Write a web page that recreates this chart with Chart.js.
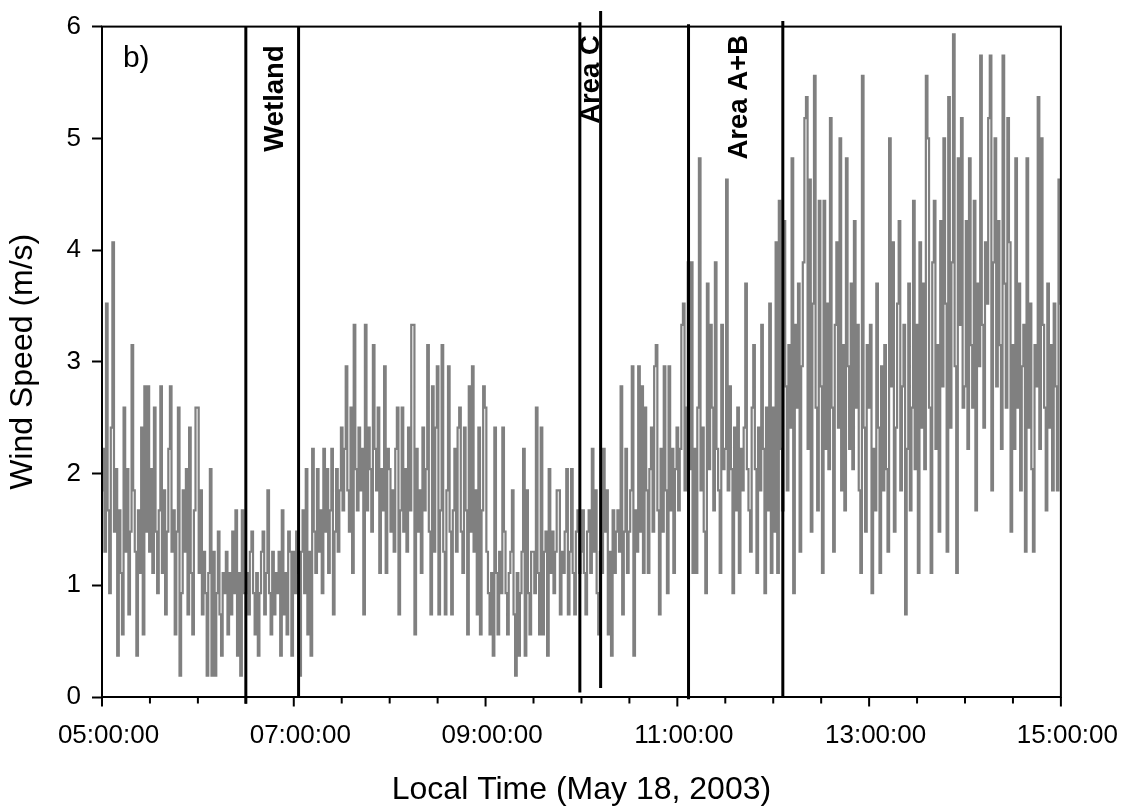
<!DOCTYPE html>
<html><head><meta charset="utf-8">
<script src="https://cdn.jsdelivr.net/npm/chart.js@4.4.1/dist/chart.umd.min.js"></script>
<style>html,body{margin:0;padding:0;background:#fff}#wrap{width:1125px;height:811px}</style>
</head><body><div id="wrap"><canvas id="c" width="1125" height="811"></canvas></div>
<script>
// ---- data (wind speed, m/s, one reading per minute starting 05:00) ----
const startHour = 5;
const speed05 = [1.85,2.22,1.30,3.52,1.67,0.93,2.41,4.07,1.48,2.04,0.37,1.67,1.11,0.56,2.59,1.30,2.04,0.74,1.48,3.15,1.85,1.30,0.37,1.67,1.11,2.41,0.56,2.78,1.48,2.78,
  1.30,2.04,1.11,2.59,1.48,0.93,1.67,2.78,1.11,1.85,0.74,1.48,2.22,2.78,1.30,1.67,0.56,1.48,2.59,0.19,0.93,1.85,1.30,2.04,0.74,2.41,1.11,0.56,1.67,2.59];
const speed06 = [2.59,1.11,1.85,0.74,1.30,0.93,0.19,1.11,2.04,0.19,1.30,0.19,0.93,1.48,0.74,0.37,1.11,0.93,1.30,0.56,1.11,0.74,1.48,0.93,1.67,0.37,1.11,0.19,1.67,0.93,
  0.93,1.11,0.74,1.30,1.48,0.93,0.56,1.11,0.37,0.93,1.30,1.48,0.74,1.11,1.85,0.93,0.56,1.30,0.74,1.11,0.93,1.30,0.37,1.67,0.74,1.11,0.56,1.48,1.30,0.37];
const speed07 = [1.30,0.93,1.48,1.11,0.19,1.30,1.67,0.93,2.04,0.56,1.30,0.37,2.22,1.48,1.11,2.04,1.30,1.67,0.93,2.22,1.48,2.04,1.11,1.67,2.22,0.74,1.48,2.04,1.30,1.85,
  2.41,1.67,2.22,2.96,1.85,1.48,2.59,1.11,3.33,2.04,1.67,2.41,1.85,2.22,0.74,3.33,1.67,2.41,2.04,1.48,3.15,2.22,1.85,2.59,1.11,2.04,1.67,2.96,1.11,2.22];
const speed08 = [2.04,1.48,1.85,1.30,2.22,2.59,0.74,1.67,2.59,1.48,2.04,1.30,2.41,1.67,3.33,3.33,0.56,2.22,1.48,1.85,1.11,2.41,1.67,2.04,3.15,1.48,0.74,2.78,1.30,2.41,
  2.96,0.74,1.67,3.15,1.30,0.74,1.85,2.96,1.48,0.74,1.67,2.22,1.30,2.41,2.59,1.48,1.11,2.41,1.67,0.56,2.78,1.48,2.96,1.30,1.85,0.74,2.41,0.56,1.67,2.78];
const speed09 = [2.59,1.30,0.93,0.56,1.11,0.37,2.41,1.11,0.56,1.30,0.93,2.41,1.48,0.93,0.56,1.11,1.30,1.85,0.74,0.19,1.11,0.37,0.93,1.30,2.22,0.37,1.85,0.93,0.56,1.30,
  1.30,0.93,2.59,1.11,0.56,2.41,0.56,1.30,1.48,0.37,2.04,1.11,1.48,0.93,1.30,1.85,1.85,0.74,1.30,1.11,1.48,2.04,0.74,1.30,2.04,1.11,0.74,1.48,1.67,1.11];
const speed10 = [1.30,1.67,1.11,0.74,1.48,1.67,1.11,2.22,1.30,1.85,0.93,0.56,1.30,1.11,2.22,1.48,1.85,0.56,1.30,0.37,1.67,1.11,1.48,1.67,1.30,2.78,0.74,1.48,2.22,1.11,
  1.48,1.85,2.96,0.37,1.67,1.30,2.96,1.48,2.78,1.11,2.59,1.85,1.11,2.04,2.41,1.48,2.96,3.15,1.67,0.74,2.22,1.48,2.96,1.85,0.93,2.96,1.67,2.22,1.11,2.04];
const speed11 = [2.41,1.67,2.22,3.33,3.52,1.85,2.59,3.89,2.04,3.89,1.11,2.22,1.11,2.59,4.82,1.85,2.41,1.48,0.93,3.70,2.04,3.33,2.59,1.67,3.89,2.22,1.85,1.11,3.33,2.04,
  2.22,4.63,1.85,2.78,2.04,0.93,2.41,1.67,2.59,1.11,2.22,1.85,2.41,3.70,2.04,1.67,1.30,2.59,3.15,2.04,1.11,2.41,1.85,3.33,2.22,0.93,2.59,1.67,3.52,1.11];
const speed12 = [2.59,1.48,4.07,1.11,4.44,2.22,1.67,4.26,2.78,1.85,3.15,2.41,4.82,0.93,3.33,2.59,3.70,1.30,2.96,3.89,5.18,5.37,2.22,4.63,1.48,3.52,5.56,2.59,1.67,4.44,
  2.78,1.11,4.44,2.22,3.52,2.04,5.18,2.59,1.30,3.33,4.07,2.41,5.00,1.85,3.15,1.67,4.82,2.96,2.22,3.70,2.04,4.26,2.59,3.33,1.85,1.11,5.56,2.41,1.48,3.15];
const speed13 = [2.59,3.33,0.93,2.22,1.67,3.70,2.41,1.11,2.96,1.85,3.15,2.04,1.30,5.00,2.78,4.07,1.48,2.41,3.52,4.26,1.85,2.78,3.33,0.74,2.22,3.70,1.67,2.59,4.44,2.04,
  3.33,1.11,4.07,2.41,3.70,2.04,5.56,5.00,2.59,1.11,3.89,4.44,2.22,3.15,1.48,4.26,2.78,5.00,3.52,1.30,5.37,2.41,3.89,5.93,2.96,1.11,4.82,3.33,5.18,2.59];
const speed14 = [2.78,4.26,2.22,4.82,3.15,2.59,4.44,1.67,3.70,2.96,5.74,3.33,2.41,4.07,3.52,5.18,5.74,1.85,3.89,5.00,2.78,4.26,3.15,2.22,5.74,3.70,2.59,5.18,4.07,1.48,
  3.15,2.22,4.82,2.59,3.70,1.85,2.96,3.33,1.30,4.82,2.41,3.52,2.04,1.30,3.15,2.78,5.37,2.22,5.00,3.33,2.59,1.67,3.70,2.41,3.15,1.85,3.52,2.78,1.85,4.63];
const speed15 = [3.52];

const xTickLabels = ['05:00:00','07:00:00','09:00:00','11:00:00','13:00:00','15:00:00'];
const yTickLabels = ['0','1','2','3','4','5','6'];
const markerTimes = ['06:30','07:03','09:59','10:12','11:07','12:06'];
const markerTop = [6.00, 6.00, 6.04, 6.14, 6.02, 6.05];
const markerBottom = [-0.06, 0.00, 0.04, 0.08, -0.02, 0.00];
const regionNames = ['Wetland', 'Area C', 'Area A+B'];
const panelTag = 'b)';

// ---- build ----
const toMin = s => { const [h, m] = s.split(':').map(Number); return (h - startHour) * 60 + m; };
const speeds = [].concat(speed05, speed06, speed07, speed08, speed09, speed10, speed11, speed12, speed13, speed14, speed15);
const seriesPts = speeds.map((v, i) => ({x: i, y: v}));

const FONT = "'Liberation Sans', Arial, sans-serif";
// label anchors in data space (minutes after 05:00, m/s)
const regionAnchors = [[113.3, 4.88], [311.25, 5.13], [403.75, 4.81]];
const tagAnchor = [13.1, 5.64];

const markerSets = markerTimes.map((t, i) => ({
  data: [{x: toMin(t), y: markerBottom[i]}, {x: toMin(t), y: markerTop[i]}],
  borderColor: '#000', borderWidth: 3, pointRadius: 0, clip: false, order: 0,
  borderCapStyle: 'butt', tension: 0
}));

const deco = {
  id: 'deco',
  afterDraw(chart) {
    const {ctx, chartArea: a, scales: {x, y}} = chart;
    ctx.save();
    ctx.strokeStyle = '#000';
    ctx.lineWidth = 2;
    ctx.strokeRect(a.left, a.top, a.right - a.left, a.bottom - a.top);
    // x tick marks: long every 2 h, short every 30 min
    for (let v = 0; v <= 600; v += 30) {
      const px = x.getPixelForValue(v);
      const len = v % 120 === 0 ? 9.5 : 6.5;
      ctx.beginPath();
      ctx.moveTo(px, a.bottom);
      ctx.lineTo(px, a.bottom + len);
      ctx.stroke();
    }
    // region labels
    ctx.fillStyle = '#000';
    ctx.font = 'bold 27.5px ' + FONT;
    ctx.textAlign = 'left';
    ctx.textBaseline = 'alphabetic';
    regionNames.forEach((name, i) => {
      const px = x.getPixelForValue(regionAnchors[i][0]);
      const py = y.getPixelForValue(regionAnchors[i][1]);
      ctx.save();
      ctx.translate(px, py);
      ctx.rotate(-Math.PI / 2);
      ctx.fillText(name, 0, 0);
      ctx.restore();
    });
    ctx.font = '30px ' + FONT;
    ctx.fillText(panelTag, x.getPixelForValue(tagAnchor[0]), y.getPixelForValue(tagAnchor[1]));
    ctx.restore();
  }
};

new Chart(document.getElementById('c'), {
  type: 'line',
  data: {
    datasets: [
      ...markerSets,
      {
        data: seriesPts, borderColor: '#808080', borderWidth: 2.2, pointRadius: 0,
        stepped: 'middle', order: 1, tension: 0, borderJoinStyle: 'miter', borderCapStyle: 'butt'
      }
    ]
  },
  options: {
    responsive: false, devicePixelRatio: 1, animation: false,
    layout: {padding: {left: 0, top: 24, right: 63, bottom: 0}},
    plugins: {legend: {display: false}, tooltip: {enabled: false}},
    scales: {
      x: {
        type: 'linear', min: 0, max: 600,
        border: {display: false},
        grid: {drawOnChartArea: false, drawTicks: true, tickLength: 10, color: 'rgba(0,0,0,0)'},
        ticks: {
          stepSize: 30, autoSkip: false, maxRotation: 0, padding: 13.5, labelOffset: 6.5,
          color: '#000', font: {family: FONT, size: 26},
          callback: v => (v % 120 === 0 ? xTickLabels[v / 120] : '')
        },
        title: {display: true, text: 'Local Time (May 18, 2003)', color: '#000',
          font: {family: FONT, size: 32}, padding: {top: 0, bottom: 2}},
        afterFit: s => { s.height = 114; }
      },
      y: {
        type: 'linear', min: 0, max: 6,
        border: {display: false},
        grid: {drawOnChartArea: false, drawTicks: true, tickLength: 10, tickWidth: 2, tickColor: '#000'},
        ticks: {
          stepSize: 1, padding: 11, color: '#000', font: {family: FONT, size: 26},
          callback: v => yTickLabels[v]
        },
        title: {display: true, text: 'Wind Speed (m/s)', color: '#000',
          font: {family: FONT, size: 32}, padding: {top: 4, bottom: 0}},
        afterFit: s => { s.width = 102; }
      }
    }
  },
  plugins: [deco]
});
</script></body></html>
